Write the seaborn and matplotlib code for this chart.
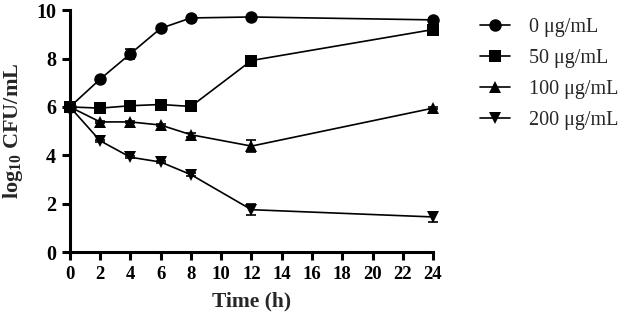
import numpy as np
import pandas as pd
import matplotlib
matplotlib.use("Agg")
import matplotlib.pyplot as plt
import seaborn as sns

time_h = [0, 2, 4, 6, 8, 12, 24]
conc_labels = ["0 μg/mL", "50 μg/mL", "100 μg/mL", "200 μg/mL"]
vals_0 = [6.0, 7.15, 8.2, 9.25, 9.68, 9.72, 9.6]
vals_50 = [6.0, 5.95, 6.05, 6.1, 6.02, 7.92, 9.2]
vals_100 = [6.0, 5.38, 5.38, 5.25, 4.85, 4.38, 5.95]
vals_200 = [6.0, 4.6, 3.92, 3.72, 3.2, 1.75, 1.45]
err_0 = [0.05, 0.08, 0.2, 0.08, 0.05, 0.05, 0.08]
err_50 = [0.05, 0.05, 0.05, 0.08, 0.05, 0.08, 0.1]
err_100 = [0.05, 0.05, 0.05, 0.05, 0.08, 0.25, 0.05]
err_200 = [0.05, 0.05, 0.05, 0.05, 0.05, 0.22, 0.2]

series = [vals_0, vals_50, vals_100, vals_200]
errs = [err_0, err_50, err_100, err_200]
markers = ["o", "s", "^", "v"]

rows = []
for lab, v, e in zip(conc_labels, series, errs):
    for t, y, s in zip(time_h, v, e):
        rows.append({"Time": t, "CFU": y, "err": s, "Conc": lab})
df = pd.DataFrame(rows)

sns.set_style("ticks")
plt.rcParams["font.family"] = ["Liberation Serif", "DejaVu Serif"]
plt.rcParams["mathtext.fontset"] = "custom"
plt.rcParams["mathtext.rm"] = "Liberation Serif:bold"
plt.rcParams["mathtext.default"] = "rm"

fig = plt.figure(figsize=(6.24, 3.19), dpi=100)
ax = fig.add_axes([0.112, 0.21, 0.582, 0.758])

sns.lineplot(data=df, x="Time", y="CFU", hue="Conc", style="Conc",
             palette=["black"] * 4, markers=markers, dashes=False,
             markersize=9, linewidth=1.2, markeredgewidth=0,
             ax=ax, clip_on=False, zorder=3)

for lab, v, e in zip(conc_labels, series, errs):
    ax.errorbar(time_h, v, yerr=e, fmt="none", ecolor="black",
                elinewidth=1.2, capsize=3.6, capthick=1.2, clip_on=False, zorder=2)

ax.set_xlim(0, 24)
ax.set_ylim(0, 10)
ax.set_xticks(range(0, 25, 2))
ax.set_yticks(range(0, 11, 2))
for s in ["top", "right"]:
    ax.spines[s].set_visible(False)
for s in ["left", "bottom"]:
    ax.spines[s].set_linewidth(2.2)
    ax.spines[s].set_color("black")
ax.tick_params(axis="both", width=2.2, length=6, direction="out",
               colors="black", pad=4)
ax.tick_params(axis="y", labelsize=14.5)
ax.tick_params(axis="x", labelsize=13.5)
for lbl in ax.get_xticklabels() + ax.get_yticklabels():
    lbl.set_fontweight("bold")

ax.set_xlabel("Time (h)", fontsize=15.5, fontweight="bold", labelpad=6)
ax.set_ylabel("log$_{10}$ CFU/mL", fontsize=16, fontweight="bold", labelpad=8)

leg = ax.legend(loc="upper left", bbox_to_anchor=(1.08, 1.045), frameon=False,
                fontsize=14.5, handlelength=1.5, labelspacing=0.6, handletextpad=0.9)
for h in leg.legend_handles:
    h.set_markersize(9)

fig.savefig("out.png", dpi=100)
